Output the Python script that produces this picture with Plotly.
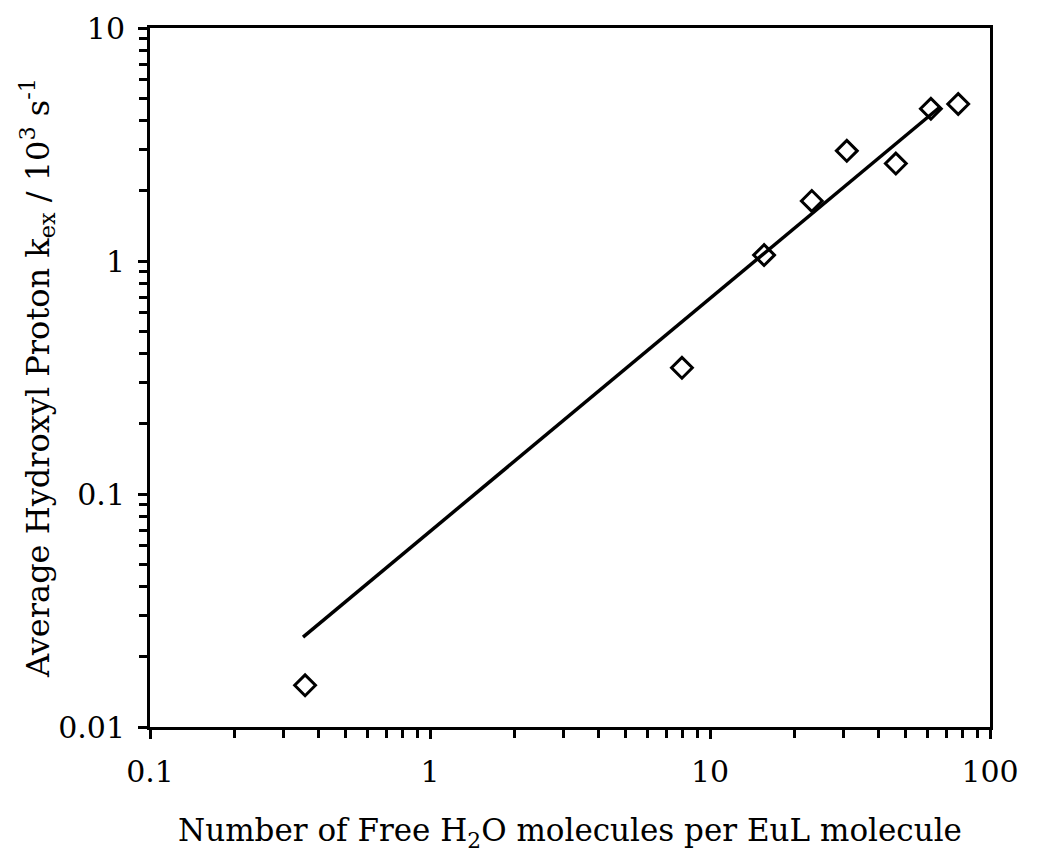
import plotly.graph_objects as go

# Data
free_h2o = [0.358, 7.94, 15.6, 23.1, 30.8, 46.1, 61.5, 77.0]
kex = [0.0151, 0.348, 1.06, 1.81, 2.97, 2.62, 4.50, 4.72]

fit_x = [0.352, 66.3]
fit_y = [0.0243, 4.58]

x_tickvals = [0.1, 1, 10, 100]
x_ticktext = ["0.1", "1", "10", "100"]
y_tickvals = [0.01, 0.1, 1, 10]
y_ticktext = ["0.01", "0.1", "1", "10"]

x_minor = [m * d for d in (0.1, 1, 10) for m in range(2, 10)]
y_minor = [m * d for d in (0.01, 0.1, 1) for m in range(2, 10)]

FONT = "DejaVu Serif"

fig = go.Figure()
fig.add_trace(go.Scatter(x=fit_x, y=fit_y, mode="lines",
                         line=dict(color="black", width=3.5), showlegend=False))
fig.add_trace(go.Scatter(x=free_h2o, y=kex, mode="markers",
                         marker=dict(symbol="diamond-open", size=16, color="black",
                                     line=dict(width=3, color="black")),
                         showlegend=False))

axis_common = dict(
    type="log", showgrid=False, zeroline=False, automargin=False,
    showline=True, linecolor="black", linewidth=3, mirror=True,
    ticks="outside", ticklen=9, tickwidth=3, tickcolor="black",
    tickfont=dict(family=FONT, size=30, color="black"),
)

fig.update_xaxes(range=[-1, 2], tickvals=x_tickvals, ticktext=x_ticktext,
                 ticklabelstandoff=7,
                 minor=dict(tickvals=x_minor, ticks="outside", ticklen=8, tickwidth=3,
                            tickcolor="black", showgrid=False),
                 title=dict(text="Number of Free H<sub>2</sub>O molecules per EuL molecule",
                            font=dict(family=FONT, size=31, color="black"), standoff=32),
                 **axis_common)
fig.update_yaxes(range=[-2, 1], tickvals=y_tickvals, ticktext=y_ticktext,
                 ticklabelstandoff=7,
                 minor=dict(tickvals=y_minor, ticks="outside", ticklen=8, tickwidth=3,
                            tickcolor="black", showgrid=False),
                 title=dict(text="Average Hydroxyl Proton k<sub>ex</sub> / 10<sup>3</sup> s<sup>-1</sup>",
                            font=dict(family=FONT, size=32, color="black"), standoff=0),
                 **axis_common)

fig.update_layout(width=1034, height=847, plot_bgcolor="white", paper_bgcolor="white",
                  margin=dict(l=142, r=52, t=20, b=128))

fig.write_html("out.html")
